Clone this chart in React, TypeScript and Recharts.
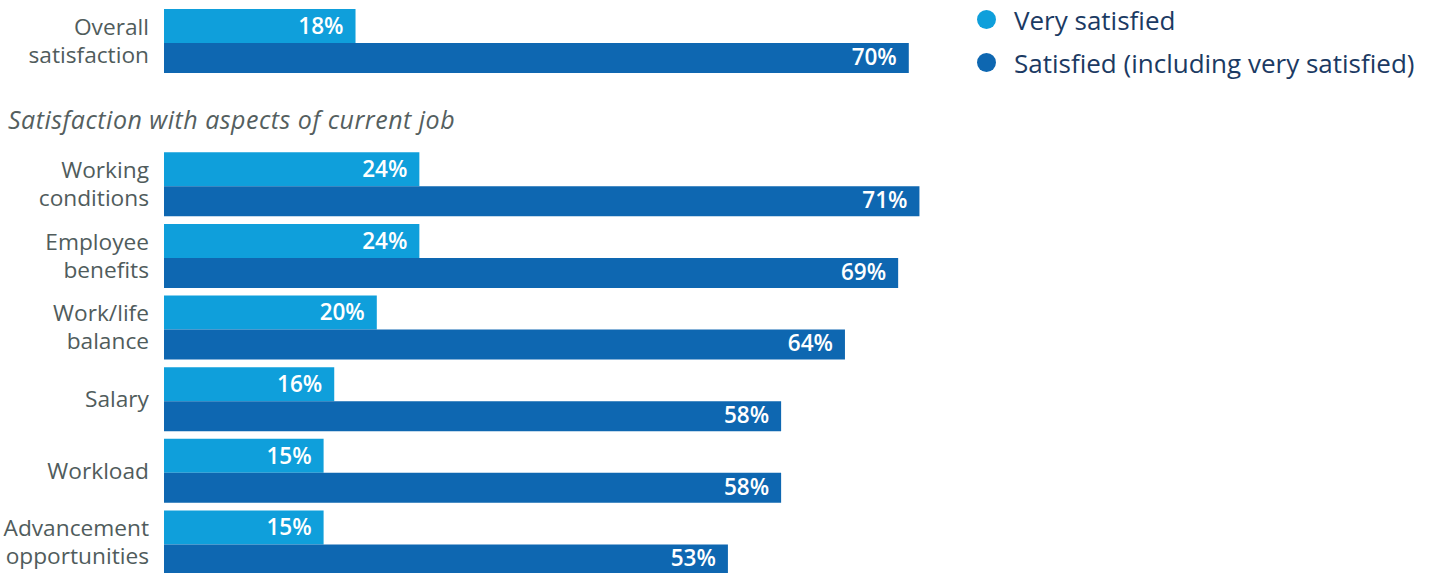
import { BarChart, Bar, XAxis, YAxis, LabelList } from "recharts";

const SECTION_TITLE = "Satisfaction with aspects of current job";

const categories = [
  "Overall\nsatisfaction",
  SECTION_TITLE,
  "Working\nconditions",
  "Employee\nbenefits",
  "Work/life\nbalance",
  "Salary",
  "Workload",
  "Advancement\nopportunities",
];
const verySatisfied = [18, null, 24, 24, 20, 16, 15, 15];
const satisfied = [70, null, 71, 69, 64, 58, 58, 53];

const seriesNames = ["Very satisfied", "Satisfied (including very satisfied)"];
const LIGHT = "#0f9fdb";
const DARK = "#0e67b1";
const FONT = "'Open Sans', sans-serif";

const data = categories.map((name, i) => ({
  name,
  very: verySatisfied[i],
  sat: satisfied[i],
}));

function CategoryTick(props: any) {
  const { x, y, payload } = props;
  const value: string = payload.value;
  if (value === SECTION_TITLE) {
    return (
      <text x={8} y={y + 8} dy="0.35em" fill="#555f5f" fontSize={25} letterSpacing={0.5} fontStyle="italic" fontFamily={FONT}>
        {value}
      </text>
    );
  }
  const lines = value.split("\n");
  const lh = 28;
  const start = y - ((lines.length - 1) * lh) / 2;
  return (
    <text x={x} y={start} textAnchor="end" fill="#505c5c" fontSize={22.7} fontFamily={FONT}>
      {lines.map((l, i) => (
        <tspan key={i} x={x} y={start + i * lh} dy="0.35em">{l}</tspan>
      ))}
    </text>
  );
}

const fmt = (v: any) => (v == null ? "" : `${v}%`);

export default function App() {
  return (
    <div style={{ position: "absolute", left: 0, top: 0, width: 1434, height: 573, overflow: "hidden", background: "#fff" }}>
      <BarChart
        width={1434}
        height={578}
        data={data}
        layout="vertical"
        margin={{ top: 5, right: 206, bottom: 0, left: 0 }}
        barGap={0}
      >
        <XAxis type="number" domain={[0, 100]} hide />
        <YAxis
          type="category"
          dataKey="name"
          width={164}
          axisLine={false}
          tickLine={false}
          tickMargin={9}
          tick={<CategoryTick />}
          interval={0}
        />
        <Bar dataKey="very" name={seriesNames[0]} fill={LIGHT} barSize={34} isAnimationActive={false}>
          <LabelList dataKey="very" position="insideRight" offset={12} fill="#fff" fontSize={22.5} fontWeight={600} fontFamily={FONT} formatter={fmt} />
        </Bar>
        <Bar dataKey="sat" name={seriesNames[1]} fill={DARK} barSize={30} isAnimationActive={false}>
          <LabelList dataKey="sat" position="insideRight" offset={12} fill="#fff" fontSize={22.5} fontWeight={600} fontFamily={FONT} formatter={fmt} dy={-1} />
        </Bar>
      </BarChart>
      <div style={{ position: "absolute", left: 977, top: -2 }}>
        {seriesNames.map((n, i) => (
          <div key={n} style={{ display: "flex", alignItems: "center", height: 43, fontFamily: FONT, fontSize: 26, color: "#1b3a63", whiteSpace: "nowrap" }}>
            <span style={{ width: 19, height: 19, borderRadius: "50%", background: i === 0 ? LIGHT : DARK, display: "inline-block", marginRight: 18 }} />
            {n}
          </div>
        ))}
      </div>
    </div>
  );
}
